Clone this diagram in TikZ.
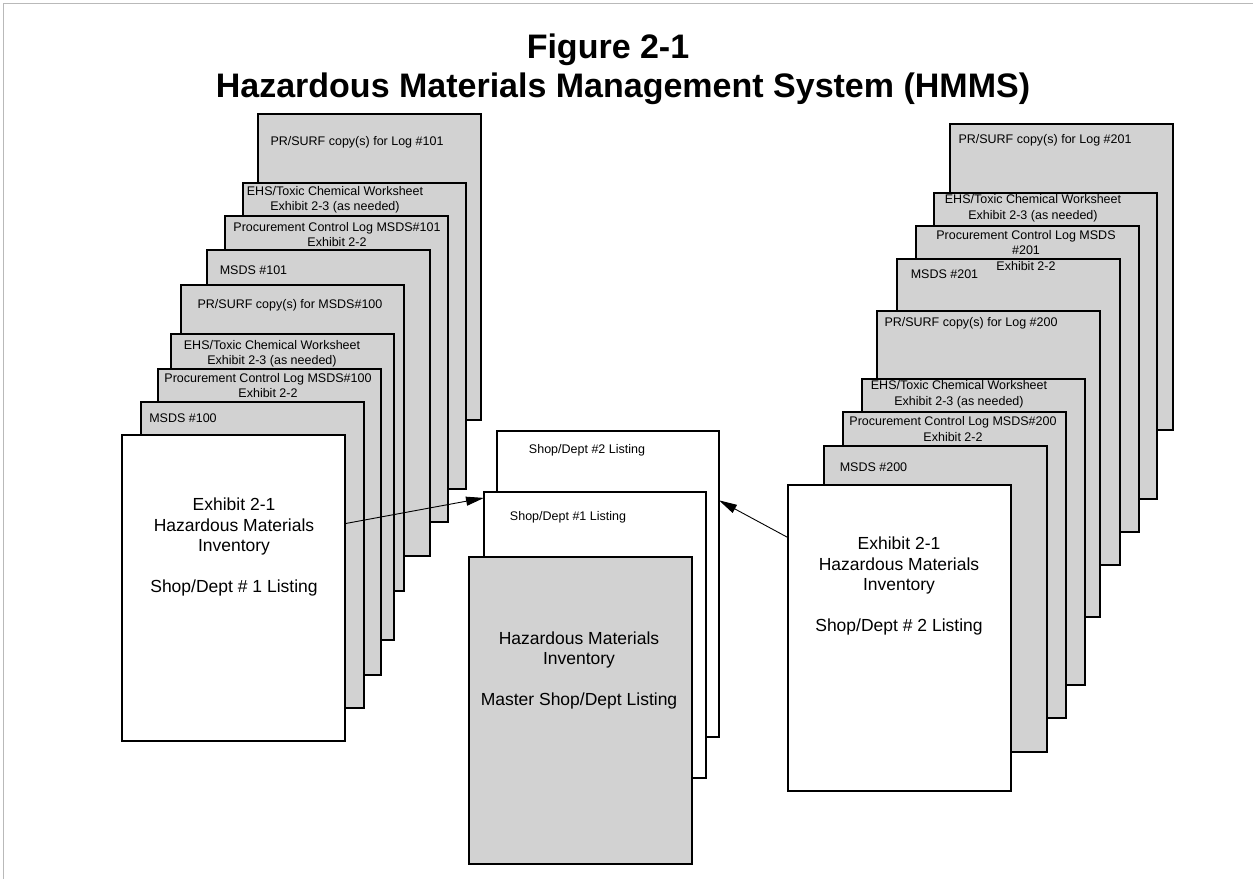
\documentclass[tikz,border=0pt]{standalone}
\usepackage{fontspec}
\setmainfont{Liberation Sans}
\usetikzlibrary{arrows.meta}
\tikzset{
  pagebox/.style={draw=black, line width=1.2pt, minimum width=223pt, minimum height=306pt,
    anchor=north west, inner sep=0pt, outer sep=0pt},
  greypage/.style={pagebox, fill=gray!35},
  whitepage/.style={pagebox, fill=white},
  smalltxt/.style={font=\fontsize{12.5}{15.5}\selectfont, align=center, inner sep=0pt},
  bigtxt/.style={font=\fontsize{17.5}{20.3}\selectfont, align=center, inner sep=0pt},
  titletxt/.style={font=\bfseries\fontsize{34}{40}\selectfont, inner sep=0pt},
  arr/.style={-{Triangle[length=18pt,width=9pt]}, line width=0.9pt, shorten >=0pt},
  frameline/.style={draw=gray!55, line width=0.8pt}
}
\begin{document}
\begin{tikzpicture}[x=1pt,y=-1pt]
\useasboundingbox (0,0) rectangle (1253,879);
\fill[white] (0,0) rectangle (1253,879);
\draw[frameline] (3,879) -- (3,3) -- (1253,3);

% Title
\node[titletxt] (t1) at (608,50) {Figure 2-1};
\node[titletxt] (t2) at (623,89) {Hazardous Materials Management System (HMMS)};

% ---------------- Left stack ----------------
\node[greypage] (L1) at (258,114) {};
\node[smalltxt] (L1t) at (357,142) {PR/SURF copy(s) for Log \#101};
\node[greypage] (L2) at (243,183) {};
\node[smalltxt] (L2t) at (335,200) {EHS/Toxic Chemical Worksheet\\Exhibit 2-3 (as needed)};
\node[greypage] (L3) at (225,216) {};
\node[smalltxt] (L3t) at (337,234.5) {Procurement Control Log MSDS\#101\\Exhibit 2-2};
\node[greypage] (L4) at (207,250) {};
\node[smalltxt] (L4t) at (253.5,270) {MSDS \#101};
\node[greypage] (L5) at (181,285) {};
\node[smalltxt] (L5t) at (290,305) {PR/SURF copy(s) for MSDS\#100};
\node[greypage] (L6) at (171,334) {};
\node[smalltxt] (L6t) at (272,354) {EHS/Toxic Chemical Worksheet\\Exhibit 2-3 (as needed)};
\node[greypage] (L7) at (158,369) {};
\node[smalltxt] (L7t) at (268,385.5) {Procurement Control Log MSDS\#100\\Exhibit 2-2};
\node[greypage] (L8) at (141,402) {};
\node[smalltxt] (L8t) at (183,418) {MSDS \#100};
\node[whitepage] (L9) at (122,435) {};
\node[bigtxt] (L9t) at (234,547) {Exhibit 2-1\\Hazardous Materials\\Inventory\\[20.3pt]Shop/Dept \# 1 Listing};

% ---------------- Right stack ----------------
\node[greypage] (R1) at (950,124) {};
\node[smalltxt] (R1t) at (1045,140) {PR/SURF copy(s) for Log \#201};
\node[greypage] (R2) at (934,193) {};
\node[smalltxt] (R2t) at (1033,208.5) {EHS/Toxic Chemical Worksheet\\Exhibit 2-3 (as needed)};
\node[greypage] (R3) at (916,226) {};
\node[greypage] (R4) at (897,259) {};
\node[smalltxt] (R3t) at (1026,250.5) {Procurement Control Log MSDS\\\#201\\Exhibit 2-2};
\node[smalltxt] (R4t) at (944.5,274) {MSDS \#201};
\node[greypage] (R5) at (877,311) {};
\node[smalltxt] (R5t) at (971,323) {PR/SURF copy(s) for Log \#200};
\node[greypage] (R6) at (862,379) {};
\node[smalltxt] (R6t) at (959,394.5) {EHS/Toxic Chemical Worksheet\\Exhibit 2-3 (as needed)};
\node[greypage] (R7) at (843,412) {};
\node[smalltxt] (R7t) at (953,429) {Procurement Control Log MSDS\#200\\Exhibit 2-2};
\node[greypage] (R8) at (824,446) {};
\node[smalltxt] (R8t) at (873.5,467) {MSDS \#200};
\node[whitepage] (R9) at (788,485) {};
\node[bigtxt] (R9t) at (899,586) {Exhibit 2-1\\Hazardous Materials\\Inventory\\[20.3pt]Shop/Dept \# 2 Listing};

% ---------------- Centre stack ----------------
\node[whitepage, minimum width=222pt] (C2) at (497,431) {};
\node[smalltxt] (C2t) at (587,450) {Shop/Dept \#2 Listing};
\node[whitepage, minimum width=222pt, minimum height=286pt] (C1) at (484,492) {};
\node[smalltxt] (C1t) at (568,517) {Shop/Dept \#1 Listing};
\node[greypage, minimum height=307pt] (M) at (469,557) {};
\node[bigtxt] (Mt) at (579,670.5) {Hazardous Materials\\Inventory\\[20.3pt]Master Shop/Dept Listing};

% ---------------- Arrows ----------------
\draw[arr] (L9.30) -- (C1.129);
\draw[arr] (R9.138) -- (C2.37);
\end{tikzpicture}
\end{document}
